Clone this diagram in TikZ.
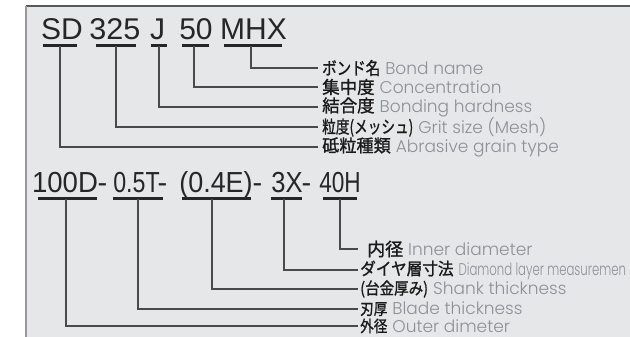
\documentclass[tikz,border=0pt]{standalone}
\usepackage{fontspec}
\usepackage{graphicx}
\setmainfont{Liberation Sans}
\newfontfamily\jpfont{Noto Sans CJK JP}[FakeBold=1.2]
\newfontfamily\enfont{Poppins}[UprightFont=* Light]
\definecolor{bgc}{HTML}{E6E7E9}
\definecolor{tokc}{HTML}{262626}
\definecolor{engray}{HTML}{8C9197}
\definecolor{jpc}{HTML}{1A1A1A}
\definecolor{linec}{HTML}{4A4A4A}
% #1 jp size, #2 jp xscale, #3 jp text, #4 english text
\newcommand{\mylabel}[4]{{\color{jpc}\jpfont\fontsize{#1}{#1}\selectfont\scalebox{#2}[1]{#3}}\hspace{5pt}{\enfont\color{engray}\fontsize{17}{17}\selectfont #4}}
\newcommand{\condensed}[1]{\scalebox{0.69}[1]{#1}}
\newcommand{\sx}[2]{\scalebox{#1}[1]{#2}}
\begin{document}
\begin{tikzpicture}[x=1pt,y=-1pt,
  tok/.style={font=\fontsize{30}{30}\selectfont, text=tokc, inner sep=0pt, anchor=base},
  tokb/.style={tok, font=\fontsize{29}{29}\selectfont},
  uline/.style={draw=tokc, line width=3pt},
  conn/.style={draw=linec, line width=1.2pt},
  lab/.style={anchor=west, inner ysep=0pt, inner xsep=4pt}]
\useasboundingbox (0,0) rectangle (630,337);
\fill[bgc] (26,6) rectangle (630,337);
\draw[draw=black!65, line width=1.5pt] (26,6) -- (630,6);
\draw[draw=black!40, line width=2pt] (26,6) -- (26,337);

% Row 1
\node[tok] (sd) at (62,40) {SD};
\node[tok] (n325) at (115,40) {\sx{1.02}{325}};
\node[tok] (j) at (157.5,40) {J};
\node[tok] (n50) at (196,40) {50};
\node[tok] (mhx) at (253.5,40) {MHX};
\draw[uline] (43,45.5) -- (77,45.5);
\draw[uline] (96,45.5) -- (136,45.5);
\draw[uline] (151,45.5) -- (167,45.5);
\draw[uline] (182,45.5) -- (209,45.5);
\draw[uline] (224,45.5) -- (282,45.5);
\coordinate (u1) at (60,46);
\coordinate (u2) at (116,46);
\coordinate (u3) at (159,46);
\coordinate (u4) at (194,46);
\coordinate (u5) at (251,46);

\node[lab] (l5) at (318,68) {\mylabel{17.5}{0.83}{ボンド名}{Bond name}};
\node[lab] (l4) at (318,87) {\mylabel{17.5}{1}{集中度}{Concentration}};
\node[lab] (l3) at (318,107) {\mylabel{17.5}{1}{結合度}{Bonding hardness}};
\node[lab] (l2) at (318,127) {\mylabel{17.5}{0.78}{粒度(メッシュ)}{Grit size (Mesh)}};
\node[lab] (l1) at (318,147) {\mylabel{17.5}{0.98}{砥粒種類}{Abrasive grain type}};
\draw[conn] (u5) |- (l5.west);
\draw[conn] (u4) |- (l4.west);
\draw[conn] (u3) |- (l3.west);
\draw[conn] (u2) |- (l2.west);
\draw[conn] (u1) |- (l1.west);

% Row 2
\node[tokb] (d100) at (65,193) {\sx{0.95}{100D}};
\node[tokb] (h1) at (102.5,193) {-};
\node[tokb] (t05) at (136.5,193) {\sx{0.8}{0.5T}};
\node[tokb] (h2) at (162.5,193) {-};
\node[tokb] (e04) at (216,193) {\sx{0.93}{(0.4E)}};
\node[tokb] (h3) at (257.5,193) {-};
\node[tokb] (x3) at (287,193) {\sx{0.88}{3X}};
\node[tokb] (h4) at (306.5,193) {-};
\node[tokb] (h40) at (340,193) {\sx{0.78}{40H}};
\draw[uline] (38,198.5) -- (97,198.5);
\draw[uline] (113,198.5) -- (163,198.5);
\draw[uline] (182,198.5) -- (251,198.5);
\draw[uline] (271,198.5) -- (302,198.5);
\draw[uline] (323,198.5) -- (357,198.5);
\coordinate (v1) at (66,199);
\coordinate (v2) at (138,199);
\coordinate (v3) at (212,199);
\coordinate (v4) at (284,199);
\coordinate (v5) at (340,199);

\node[lab, inner xsep=9pt] (m5) at (358,249) {\mylabel{18}{1}{内径}{Inner diameter}};
\node[lab, inner xsep=2pt] (m4) at (358,270) {\mylabel{17}{0.92}{ダイヤ層寸法}{\condensed{Diamond layer measuremen}}};
\node[lab, inner xsep=2pt] (m3) at (358,289) {\mylabel{16.5}{0.88}{(台金厚み)}{Shank thickness}};
\node[lab, inner xsep=2pt] (m2) at (358,309) {\mylabel{16}{0.85}{刃厚}{Blade thickness}};
\node[lab, inner xsep=2pt] (m1) at (358,326) {\mylabel{16}{0.85}{外径}{Outer dimeter}};
\draw[conn] (v5) |- (m5.west);
\draw[conn] (v4) |- (m4.west);
\draw[conn] (v3) |- (m3.west);
\draw[conn] (v2) |- (m2.west);
\draw[conn] (v1) |- (m1.west);
\end{tikzpicture}
\end{document}
